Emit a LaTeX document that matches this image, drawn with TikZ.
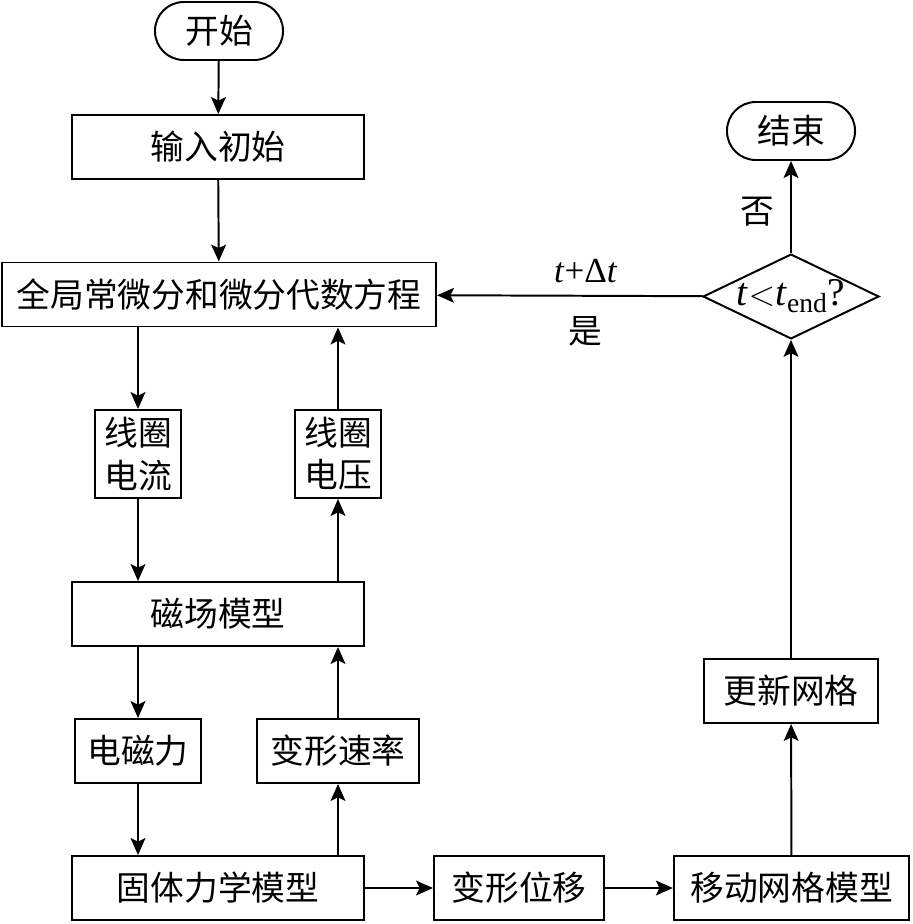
\documentclass[tikz,border=0pt]{standalone}
\usepackage{fontspec}
\setmainfont{Liberation Serif}
\newfontfamily\cjk{Noto Sans CJK SC}
\usepackage{tikz}
\usetikzlibrary{
    shapes.geometric,
    arrows.meta,
    positioning,
    calc
}

\begin{document}
\begin{tikzpicture}[
        x=0.025cm, y=-0.025cm,
        line width=1.4pt,
        every node/.style={font=\cjk\fontsize{24}{30}\selectfont},
        box/.style={rectangle, draw, inner sep=0pt, minimum width=#1, minimum height=1.6cm},
        term/.style={rectangle, rounded corners=0.72cm, draw, inner sep=0pt, minimum width=3.2cm, minimum height=1.45cm},
        decide/.style={diamond, draw, inner sep=0pt, minimum width=4.4cm, minimum height=2.12cm},
        flow/.style={-{Stealth[length=12pt, width=10.5pt, inset=2.5pt]}}
    ]
        \useasboundingbox (0,0) rectangle (912,924);

        \node[term] (start) at (219, 31) {开始};
        \node[box=7.28cm] (init) at (218, 147) {输入初始};
        \node[box=10.85cm] (global) at (219, 294.5) {全局常微分和微分代数方程};

        \node[box=2.15cm, minimum height=2.2cm, align=center] (current) at (138, 454) {线圈\\电流};
        \node[box=2.15cm, minimum height=2.2cm, align=center] (voltage) at (338, 454) {线圈\\电压};

        \node[box=7.28cm] (field) at (218, 614) {磁场模型};
        \node[box=3.15cm] (force) at (138, 751) {电磁力};
        \node[box=4.05cm] (rate) at (338, 751) {变形速率};

        \node[box=7.28cm] (solid) at (218, 888) {固体力学模型};
        \node[box=4.25cm] (disp) at (519, 888) {变形位移};
        \node[box=5.88cm] (mesh) at (791.5, 888) {移动网格模型};

        \node[box=4.33cm] (update) at (791, 691) {更新网格};
        \node[decide] (check) at (791, 296.5) {\makebox[0pt]{\rmfamily\fontsize{28}{34}\selectfont\textit{t}$<$\textit{t}\textsubscript{end}?}};
        \node[term] (stop) at (791, 131) {结束};

        \draw[flow] (start) -- (init);
        \draw[flow] (init) -- (global);
        \draw[flow] (global.south -| current) -- (current);
        \draw[flow] (current) -- (current |- field.north);
        \draw[flow] (field.north -| voltage) -- (voltage);
        \draw[flow] (voltage) -- (voltage |- global.south);
        \draw[flow] (field.south -| force) -- (force);
        \draw[flow] (force) -- (force |- solid.north);
        \draw[flow] (solid.north -| rate) -- (rate);
        \draw[flow] (rate) -- (rate |- field.south);
        \draw[flow] (solid) -- (disp);
        \draw[flow] (disp) -- (mesh);
        \draw[flow] (mesh) -- (update);
        \draw[flow] (update) -- (check);
        \draw[flow] (check) -- node[left=8pt, pos=0.45] {否} (stop);
        \draw[flow] (check) -- node[above=5pt, pos=0.44, font=\rmfamily\fontsize{25}{30}\selectfont] {\textit{t}+Δ\textit{t}} node[below=11pt, pos=0.44] {是} (global);
    \end{tikzpicture}
\end{document}
